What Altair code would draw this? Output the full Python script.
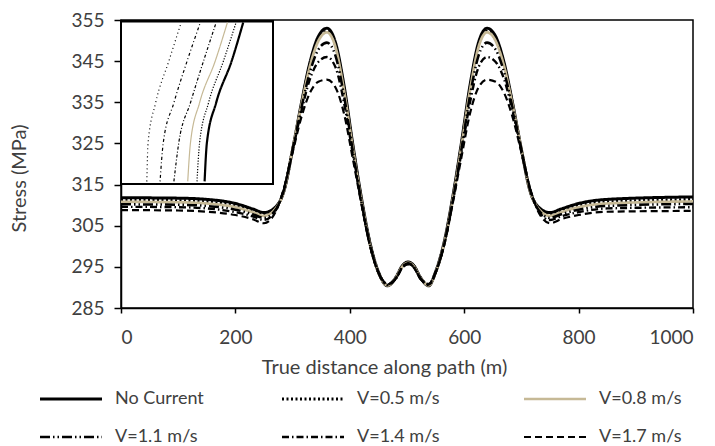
import altair as alt
import pandas as pd

SERIES = ["No Current", "V=0.5 m/s", "V=0.8 m/s", "V=1.1 m/s", "V=1.4 m/s", "V=1.7 m/s"]

X = [0, 100, 150, 200, 230, 250, 270, 285, 300, 315, 330, 345, 360, 375, 390, 405, 420, 435, 450, 466,
     480, 492, 502, 512, 524, 538, 550, 565, 580, 595, 610, 625, 640, 655, 670, 685, 700, 715, 730, 750,
     770, 800, 850, 1000]

NO_CURRENT = [311.8, 311.7, 311.4, 310.4, 309.1, 308.2, 309.5, 313.5, 323.5, 334.5, 344.5, 351, 353, 349.5,
              339, 325, 312, 301, 293.8, 290.4, 292.3, 295.3, 296.2, 295.3, 292.3, 290.4, 293.8, 301, 312,
              325, 339, 349.5, 353, 351, 344.5, 334.5, 323.5, 313.5, 309.5, 308.2, 309.1, 310.4, 311.4, 312.0]
V05 = [311.2, 311.1, 310.8, 309.9, 308.7, 307.8, 309.3, 313.6, 323.5, 334.2, 344, 350.4, 352.3, 348.8,
       338.3, 324.5, 311.6, 300.8, 293.7, 290.5, 292.3, 295.2, 296.1, 295.2, 292.3, 290.5, 293.7, 300.8,
       311.6, 324.5, 338.3, 348.8, 352.3, 350.4, 344, 334.2, 323.5, 313.6, 309.3, 307.8, 308.7, 309.9,
       310.8, 311.4]
V08 = [310.8, 310.7, 310.4, 309.5, 308.3, 307.4, 309.1, 313.6, 323.6, 334.0, 343.6, 349.9, 352, 348.4,
       337.8, 324.1, 311.3, 300.6, 293.6, 290.5, 292.2, 295.1, 296.0, 295.1, 292.2, 290.5, 293.6, 300.6,
       311.3, 324.1, 337.8, 348.4, 352, 349.9, 343.6, 334.0, 323.6, 313.6, 309.1, 307.4, 308.3, 309.5,
       310.4, 310.9]
V11 = [310.2, 310.1, 309.8, 308.9, 307.8, 306.9, 308.8, 313.8, 323.5, 333.4, 342.2, 347.8, 349.5, 346.3,
       336.5, 323.4, 311, 300.5, 293.6, 290.6, 292.1, 295, 295.9, 295, 292.1, 290.6, 293.6, 300.5, 311,
       323.4, 336.5, 346.3, 349.5, 347.8, 342.2, 333.4, 323.5, 313.8, 308.8, 306.9, 307.8, 308.9, 309.8,
       310.3]
V14 = [309.6, 309.5, 309.2, 308.3, 307.3, 306.4, 308.6, 314, 323.3, 332.6, 340.5, 344.8, 346, 343.5,
       334.8, 322.6, 310.8, 300.4, 293.6, 290.7, 292, 294.9, 295.8, 294.9, 292, 290.7, 293.6, 300.4,
       310.8, 322.6, 334.8, 343.5, 346, 344.8, 340.5, 332.6, 323.3, 314, 308.6, 306.4, 307.3, 308.3,
       309.2, 309.5]
V17 = [308.8, 308.7, 308.4, 307.6, 306.6, 305.6, 308.3, 314.2, 322.8, 331.2, 337.2, 340, 340.5, 338.6,
       332.2, 321.5, 310.5, 300.3, 293.7, 290.9, 292, 294.8, 295.6, 294.8, 292, 290.9, 293.7, 300.3,
       310.5, 321.5, 332.2, 338.6, 340.5, 340, 337.2, 331.2, 322.8, 314.2, 308.3, 305.6, 306.6, 307.6,
       308.4, 308.6]
VALUES = [NO_CURRENT, V05, V08, V11, V14, V17]

# Inset (magnified detail): relative units 0-100
INSET_Y = [1, 25, 50, 76, 100]
INSET_X = {
    "No Current": [55.0, 56.5, 62.6, 72.8, 80.4],
    "V=0.5 m/s": [50.0, 51.7, 57.6, 67.4, 75.7],
    "V=0.8 m/s": [43.9, 45.7, 51.7, 62.0, 70.0],
    "V=1.1 m/s": [34.8, 38.0, 45.7, 54.3, 62.6],
    "V=1.4 m/s": [25.7, 27.8, 34.8, 43.5, 52.2],
    "V=1.7 m/s": [17.0, 17.8, 22.8, 31.5, 39.6],
}

COLORS = ["#000000", "#000000", "#c6b996", "#000000", "#000000", "#000000"]
DASHES = [[1, 0], [2, 2.5], [1, 0], [10, 3, 1.5, 3, 1.5, 3], [7, 3, 1.5, 3], [7, 4]]
WIDTHS = [3, 2.2, 2, 2, 2, 2]
INSET_DASHES = [[1, 0], [1.2, 1.6], [1, 0], [3, 2, 1, 2], [1, 2.5, 3, 2.5], [1, 3]]
INSET_WIDTHS = [2.2, 1.2, 1.2, 1.2, 1.2, 1.2]

rows = []
for s, vals in zip(SERIES, VALUES):
    for x, v in zip(X, vals):
        rows.append({"series": s, "x": x, "y": v})
main_df = pd.DataFrame(rows)

irows = []
for s in SERIES:
    for i, (ix, iy) in enumerate(zip(INSET_X[s], INSET_Y)):
        irows.append({"series": s, "ix": ix, "iy": iy, "o": i})
inset_df = pd.DataFrame(irows)

FONT = "Lato"
FS = 19

main = alt.Chart(main_df).mark_line(interpolate="monotone").encode(
    x=alt.X("x:Q", scale=alt.Scale(domain=[0, 1000], nice=False),
            axis=alt.Axis(values=[0, 200, 400, 600, 800, 1000], title="True distance along path (m)",
                          format="d", grid=False, tickSize=5, labelPadding=15, titlePadding=10,
                          titleX=263)),
    y=alt.Y("y:Q", scale=alt.Scale(domain=[285, 355], nice=False, zero=False),
            axis=alt.Axis(values=[285, 295, 305, 315, 325, 335, 345, 355], title="Stress (MPa)",
                          grid=False, tickSize=7, labelPadding=10, titlePadding=41, titleY=158)),
    color=alt.Color("series:N", scale=alt.Scale(domain=SERIES, range=COLORS),
                    legend=alt.Legend(title=None, orient="none", legendX=-67, legendY=362,
                                      columns=3, columnPadding=72, rowPadding=12, gridAlign="all",
                                      symbolType="M-2,0H2", symbolSize=961, labelFontSize=18,
                                      labelFont=FONT, labelColor="#404040", labelOffset=27,
                                      labelLimit=300, direction="horizontal")),
    strokeDash=alt.StrokeDash("series:N", scale=alt.Scale(domain=SERIES, range=DASHES),
                              legend=alt.Legend(title=None)),
    strokeWidth=alt.StrokeWidth("series:N", scale=alt.Scale(domain=SERIES, range=WIDTHS),
                                legend=alt.Legend(title=None)),
    order=alt.Order("x:Q"),
)

inset_bg = alt.Chart(main_df).mark_rect(fill="white", stroke="black", strokeWidth=2).encode(
    x=alt.value(0), x2=alt.value(152), y=alt.value(1.5), y2=alt.value(164)
)

inset_layers = []
for s, c, d, w in zip(SERIES, COLORS, INSET_DASHES, INSET_WIDTHS):
    inset_layers.append(
        alt.Chart(inset_df).transform_filter(alt.datum.series == s).mark_line(
            interpolate="monotone", color=c, strokeDash=d, strokeWidth=w
        ).encode(
            x=alt.X("ix:Q", scale=alt.Scale(domain=[0, 100], range=[0, 152], nice=False), axis=None),
            y=alt.Y("iy:Q", scale=alt.Scale(domain=[0, 100], range=[163, 2.5], nice=False, zero=False),
                    axis=None),
            order=alt.Order("o:Q"),
        )
    )

inset = alt.layer(*inset_layers)

chart = alt.layer(main, inset_bg, inset).resolve_scale(
    x="independent", y="independent"
).properties(
    width=572, height=288,
    background="white",
    autosize=alt.AutoSizeParams(type="none"),
    padding={"left": 121, "top": 20, "right": 22, "bottom": 138},
).configure_view(
    stroke="black", strokeWidth=1.5
).configure_axis(
    domainColor="black", domainWidth=1.5, tickColor="black", tickWidth=1.5,
    labelFont=FONT, labelFontSize=FS, labelColor="#404040",
    titleFont=FONT, titleFontSize=20, titleColor="#404040", titleFontWeight="normal",
)

chart.save("out.html", embed_options={"renderer": "svg", "actions": False})
